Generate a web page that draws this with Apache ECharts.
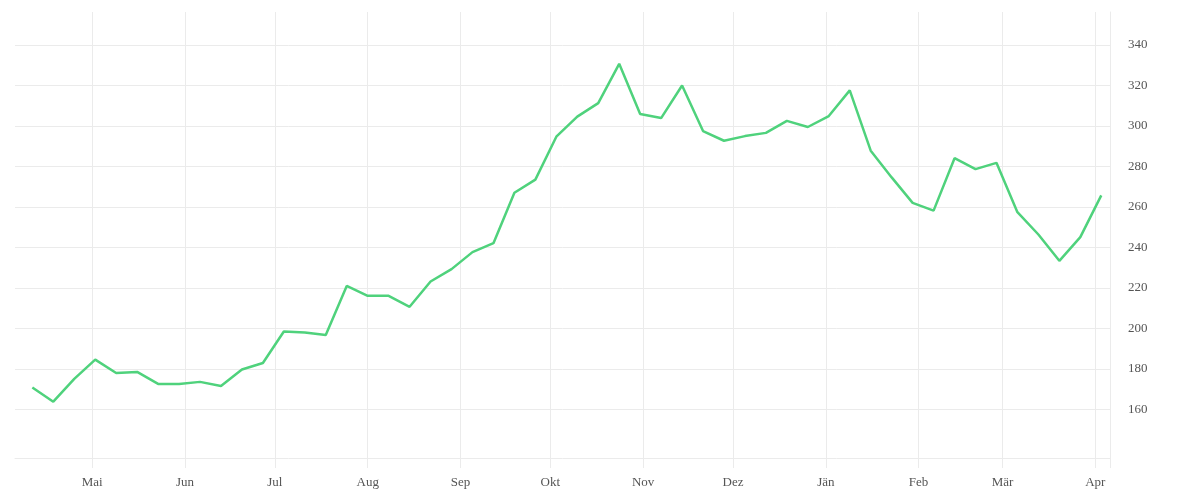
<!DOCTYPE html>
<html>
<head>
<meta charset="utf-8">
<script src="https://cdn.jsdelivr.net/npm/echarts@6/dist/echarts.min.js"></script>
<style>
  html, body { margin: 0; padding: 0; background: #fff; }
  #chart { width: 1200px; height: 500px; }
</style>
</head>
<body>
<div id="chart"></div>
<script>
// weekly observations
let week_dates = [
    '2021-04-11', '2021-04-18', '2021-04-25', '2021-05-02', '2021-05-09', '2021-05-16',
    '2021-05-23', '2021-05-30', '2021-06-06', '2021-06-13', '2021-06-20', '2021-06-27',
    '2021-07-04', '2021-07-11', '2021-07-18', '2021-07-25', '2021-08-01', '2021-08-08',
    '2021-08-15', '2021-08-22', '2021-08-29', '2021-09-05', '2021-09-12', '2021-09-19',
    '2021-09-26', '2021-10-03', '2021-10-10', '2021-10-17', '2021-10-24', '2021-10-31',
    '2021-11-07', '2021-11-14', '2021-11-21', '2021-11-28', '2021-12-05', '2021-12-12',
    '2021-12-19', '2021-12-26', '2022-01-02', '2022-01-09', '2022-01-16', '2022-01-23',
    '2022-01-30', '2022-02-06', '2022-02-13', '2022-02-20', '2022-02-27', '2022-03-06',
    '2022-03-13', '2022-03-20', '2022-03-27', '2022-04-03'
];

let week_values = [
    170.8, 163.8, 175.1, 184.6, 178.0, 178.5, 172.6, 172.6, 173.6, 171.6,
    179.7, 182.9, 198.5, 198.0, 196.7, 221.0, 216.1, 216.1, 210.7, 223.2,
    229.3, 237.7, 242.1, 267.0, 273.5, 294.7, 304.6, 311.3, 330.7, 305.9,
    303.9, 320.0, 297.5, 292.7, 295.0, 296.6, 302.5, 299.5, 304.9, 317.6,
    287.8, 274.6, 262.0, 258.2, 284.1, 278.7, 281.8, 257.4, 246.4, 233.4,
    245.1, 265.7
];

// x axis: month starts and their labels
let month_starts = [
    '2021-05-01', '2021-06-01', '2021-07-01', '2021-08-01', '2021-09-01', '2021-10-01',
    '2021-11-01', '2021-12-01', '2022-01-01', '2022-02-01', '2022-03-01', '2022-04-01'
];
let month_names = ['Mai', 'Jun', 'Jul', 'Aug', 'Sep', 'Okt', 'Nov', 'Dez', 'Jän', 'Feb', 'Mär', 'Apr'];

// y axis tick labels
let y_ticks = [160, 180, 200, 220, 240, 260, 280, 300, 320, 340];

let x_min = '2021-04-05T05:00:00';
let x_max = '2022-04-05T22:00:00';

let grid_color = '#ebebeb';
let text_color = '#555555';
let font_name = 'Liberation Serif';

function to_ts(s) {
    return echarts.time.parse(s).getTime();
}

let month_ts = month_starts.map(to_ts);
let x_min_ts = to_ts(x_min);
let x_max_ts = to_ts(x_max);

let label_of_month = {};
for (let i = 0; i < month_ts.length; i++) {
    label_of_month[month_ts[i]] = month_names[i];
}

let line_data = [];
for (let i = 0; i < week_dates.length; i++) {
    line_data.push([to_ts(week_dates[i]), week_values[i]]);
}

let chart = echarts.init(document.getElementById('chart'));

chart.setOption({
    animation: false,
    grid: { left: 15, right: 90, top: 12, bottom: 42, containLabel: false },
    xAxis: {
        type: 'value',
        min: x_min_ts,
        max: x_max_ts,
        axisLine: { show: true, lineStyle: { color: grid_color, width: 1 } },
        axisTick: {
            show: true,
            length: 10,
            customValues: month_ts.concat([x_max_ts]),
            lineStyle: { color: grid_color, width: 1 }
        },
        axisLabel: {
            customValues: month_ts,
            margin: 18,
            color: text_color,
            fontFamily: font_name,
            fontSize: 13,
            formatter: function (val) { return label_of_month[val] || ''; }
        },
        splitLine: { show: true, lineStyle: { color: grid_color, width: 1 } }
    },
    yAxis: {
        type: 'value',
        position: 'right',
        min: 136,
        max: 356.3,
        axisLine: { show: true, lineStyle: { color: grid_color, width: 1 } },
        axisTick: { show: false, customValues: y_ticks },
        axisLabel: {
            customValues: y_ticks,
            margin: 18,
            color: text_color,
            fontFamily: font_name,
            fontSize: 13
        },
        splitLine: { show: true, lineStyle: { color: grid_color, width: 1 } }
    },
    series: [{
        type: 'line',
        data: line_data,
        showSymbol: false,
        lineStyle: { color: '#4fd27c', width: 2.5 },
        itemStyle: { color: '#4fd27c' }
    }]
});
</script>
</body>
</html>
